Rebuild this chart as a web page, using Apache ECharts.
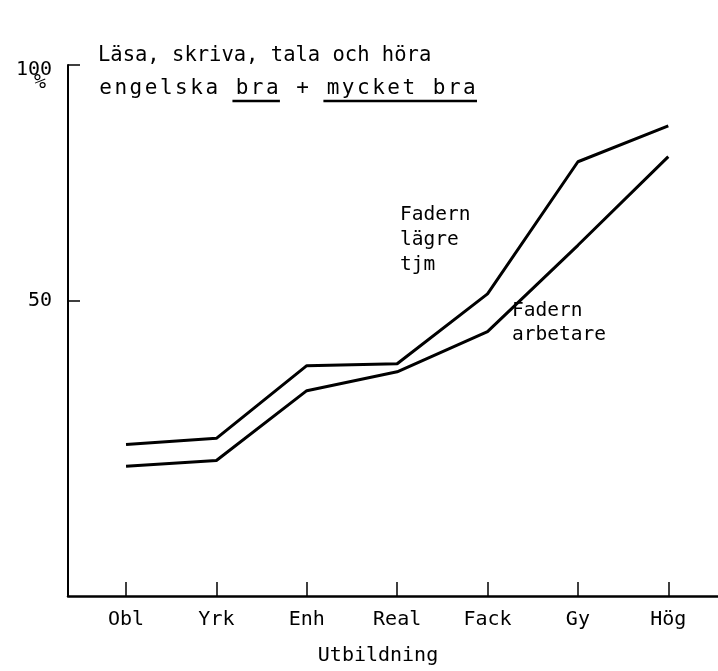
<!DOCTYPE html>
<html>
<head>
<meta charset="utf-8">
<script src="https://cdn.jsdelivr.net/npm/echarts@6/dist/echarts.min.js"></script>
<style>html,body{margin:0;padding:0;background:#fff}#c{width:718px;height:671px}</style>
</head>
<body>
<div id="c"></div>
<script>
var categories = ['Obl', 'Yrk', 'Enh', 'Real', 'Fack', 'Gy', 'Hög'];
var laegreTjm = [19.6, 20.9, 36.3, 36.7, 51.5, 79.5, 87.1];
var arbetare = [15.0, 16.2, 31.0, 35.0, 43.5, 61.8, 80.6];
var yTicks = [50, 100];

var FONT = 'DejaVu Sans Mono';
function pairs(arr) { return arr.map(function (v, i) { return [i, v]; }); }

var F1 = '20.5px "DejaVu Sans Mono"';
var F2 = '21px "DejaVu Sans Mono"';
var uy = 101;
var line2 = 'engelska bra + mycket bra';
var pitch2 = 15.16;

var gfx = [
  { type: 'text', left: 34, top: 73, style: { text: '%', font: '20px "DejaVu Sans Mono"', fill: '#000' } },
  { type: 'text', left: 98, top: 45, style: { text: 'Läsa, skriva, tala och höra', font: F1, fill: '#000' } },
  { type: 'line', shape: { x1: 98 + 9 * pitch2 - 2, y1: uy, x2: 98 + 12 * pitch2, y2: uy }, style: { stroke: '#000', lineWidth: 2.5 } },
  { type: 'line', shape: { x1: 98 + 15 * pitch2 - 2, y1: uy, x2: 98 + 25 * pitch2, y2: uy }, style: { stroke: '#000', lineWidth: 2.5 } },
  { type: 'text', left: 400, top: 202, style: { text: 'Fadern\nlägre\ntjm', font: '19.5px "DejaVu Sans Mono"', lineHeight: 25, fill: '#000' } },
  { type: 'text', left: 512, top: 299, style: { text: 'Fadern\narbetare', font: '19.5px "DejaVu Sans Mono"', lineHeight: 24, fill: '#000' } }
];
for (var i = 0; i < line2.length; i++) {
  if (line2[i] === ' ') continue;
  gfx.push({ type: 'text', x: 98 + i * pitch2 + pitch2 / 2, y: 89,
    style: { text: line2[i], font: F2, fill: '#000', textAlign: 'center', textVerticalAlign: 'middle' } });
}

var chart = echarts.init(document.getElementById('c'), null, { renderer: 'canvas' });
chart.setOption({
  animation: false,
  backgroundColor: '#fff',
  grid: { left: 68, right: 0, top: 65, bottom: 73 },
  xAxis: {
    type: 'value',
    min: -0.642,
    max: 6.55,
    name: 'Utbildning',
    nameLocation: 'middle',
    nameGap: 50,
    nameTextStyle: { fontFamily: FONT, fontSize: 20, color: '#000', padding: [0, 30, 0, 0] },
    axisLine: { show: true, onZero: false, lineStyle: { color: '#000', width: 2.5 } },
    axisTick: { show: true, inside: true, length: 14, lineStyle: { color: '#000', width: 1.5 }, customValues: [0, 1, 2, 3, 4, 5, 6] },
    axisLabel: {
      show: true, margin: 14, fontFamily: FONT, fontSize: 20, color: '#000',
      customValues: [0, 1, 2, 3, 4, 5, 6],
      formatter: function (v) { return categories[Math.round(v)]; }
    },
    splitLine: { show: false }
  },
  yAxis: {
    type: 'value',
    min: -12.5,
    max: 100,
    axisLine: { show: true, onZero: false, lineStyle: { color: '#000', width: 2 } },
    axisTick: { show: true, inside: true, length: 12, lineStyle: { color: '#000', width: 1.5 }, customValues: yTicks },
    axisLabel: {
      show: true, margin: 16, fontFamily: FONT, fontSize: 20, color: '#000',
      customValues: yTicks,
      formatter: function (v) { return v === 100 ? '{t|' + v + '}' : String(v); },
      rich: { t: { fontFamily: FONT, fontSize: 20, color: '#000', padding: [10, 0, 0, 0] } }
    },
    splitLine: { show: false }
  },
  graphic: gfx,
  series: [
    {
      name: 'Fadern lägre tjm', type: 'line', data: pairs(laegreTjm),
      showSymbol: false, symbol: 'none',
      lineStyle: { color: '#000', width: 3 }
    },
    {
      name: 'Fadern arbetare', type: 'line', data: pairs(arbetare),
      showSymbol: false, symbol: 'none',
      lineStyle: { color: '#000', width: 3 }
    }
  ]
});
</script>
</body>
</html>
